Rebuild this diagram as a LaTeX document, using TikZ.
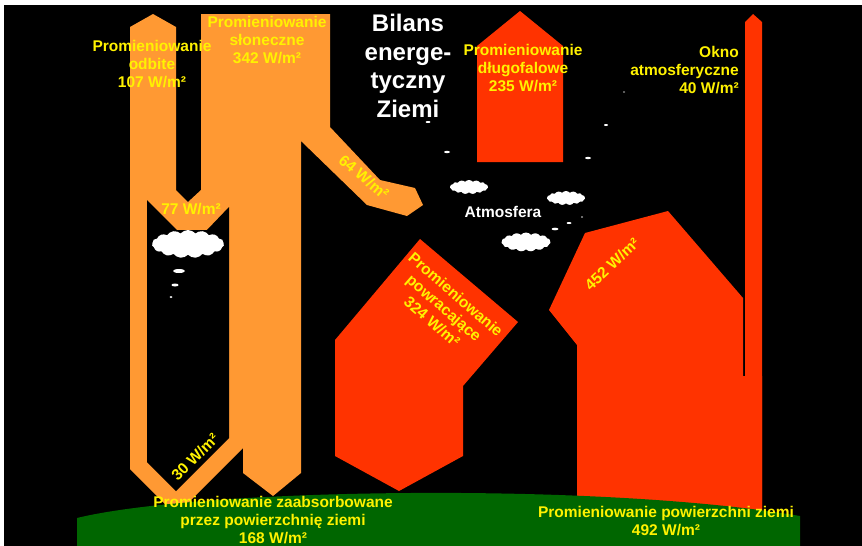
\documentclass[tikz,border=0pt]{standalone}
\usepackage{fontspec}
\setmainfont{Liberation Sans}
\usetikzlibrary{shapes.symbols}

\definecolor{sunorange}{RGB}{255,153,51}
\definecolor{heatred}{RGB}{255,51,0}
\definecolor{ground}{RGB}{0,102,0}

\tikzset{
	lbl/.style={text=yellow, font=\bfseries\fontsize{15.5}{18}\selectfont, align=center, inner sep=0pt},
	headline/.style={text=white, font=\bfseries\fontsize{24}{28.5}\selectfont, align=center, inner sep=0pt},
	puff/.style={cloud, cloud puffs=15, cloud puff arc=100, cloud ignores aspect, fill=white, draw=none, inner sep=0pt},
}

\begin{document}
\begin{tikzpicture}[x=1pt,y=-1pt]
		\useasboundingbox (0,0) rectangle (862,546);
		\fill[white] (0,0) rectangle (862,546);
		\fill[black] (4,5) rectangle (862,546);

		% short wave: incoming, reflected, 64 into the air
		\fill[sunorange] (130,27) -- (153,14) -- (176,27) -- (176,190) -- (188,202) -- (201,190)
			-- (201,14) -- (330,14) -- (330,127) -- (380,180) -- (415,188) -- (423,205)
			-- (407,216) -- (367,205) -- (301,141) -- (301,473) -- (273,496) -- (243,473)
			-- (243,448) -- (176,515) -- (130,469) -- cycle;
		% hole under the 77 arrow
		\fill[black] (147,200) -- (177,230) -- (207,230) -- (229,207) -- (229,438) -- (176,491) -- (147,462) -- cycle;

		% long wave
		\fill[heatred] (477,162) -- (477,46) -- (520,11) -- (563,46) -- (563,162) -- cycle;
		\fill[heatred] (745,520) -- (745,22) -- (753,14) -- (762,22) -- (762,520) -- cycle;
		\fill[heatred] (577,520) -- (577,345) -- (549,310) -- (585,233) -- (668,211) -- (743,298)
			-- (743,376) -- (762,376) -- (762,520) -- cycle;
		\fill[heatred] (420,239) -- (518,322) -- (463,386) -- (463,456) -- (399,491) -- (335,456) -- (335,340) -- cycle;

		% ground
		\fill[ground] (77,546) -- (77,518) .. controls (200,488) and (600,482) .. (800,516) -- (800,546) -- cycle;

		% clouds and droplets
		\node[puff, minimum width=72pt, minimum height=28pt] (cloudA) at (188,244) {};
		\node[puff, minimum width=38pt, minimum height=14pt] (cloudB) at (469,187) {};
		\node[puff, minimum width=38pt, minimum height=14pt] (cloudC) at (566,198) {};
		\node[puff, minimum width=49pt, minimum height=19pt] (cloudD) at (526,242) {};
		\foreach \x/\y/\rx/\ry in {179/271/6/2, 175/285/3.5/1.5, 171/297/1.5/1, 428/122/2.5/1,
			447/152/3/1.2, 588/158/3/1.2, 606/125/2/1, 624/92/1/0.6, 582/217/1/0.7,
			569/223/2.5/1, 555/229/3.5/1.3}
			\fill[white] (\x,\y) ellipse (\rx pt and \ry pt);

		\node[headline] (bilans) at (408,66) {Bilans\\energe-\\tyczny\\Ziemi};
		\node[lbl, text=white] (atmosfera) at (503,212) {Atmosfera};

		\node[lbl] (odbite) at (152,64) {Promieniowanie\\odbite\\107 W/m²};
		\node[lbl] (sloneczne) at (267,40) {Promieniowanie\\słoneczne\\342 W/m²};
		\node[lbl] (dlugofalowe) at (523,68) {Promieniowanie\\długofalowe\\235 W/m²};
		\node[lbl, align=right, anchor=east] (okno) at (739,70) {Okno\\atmosferyczne\\40 W/m²};
		\node[lbl] (w77) at (191,209) {77 W/m²};
		\node[lbl, rotate=-40] (w64) at (364,177) {64 W/m²};
		\node[lbl, rotate=45] (w30) at (195,457) {30 W/m²};
		\node[lbl, rotate=-41] (powracajace) at (444,308) {Promieniowanie\\powracające\\324 W/m²};
		\node[lbl, rotate=43] (w452) at (612,264) {452 W/m²};
		%\node[lbl] at (666,300) {};
		\node[lbl] (zaabsorbowane) at (273,520) {Promieniowanie zaabsorbowane\\przez powierzchnię ziemi\\168 W/m²};
		\node[lbl] (powierzchni) at (666,521) {Promieniowanie powierzchni ziemi\\492 W/m²};
	\end{tikzpicture}
\end{document}
